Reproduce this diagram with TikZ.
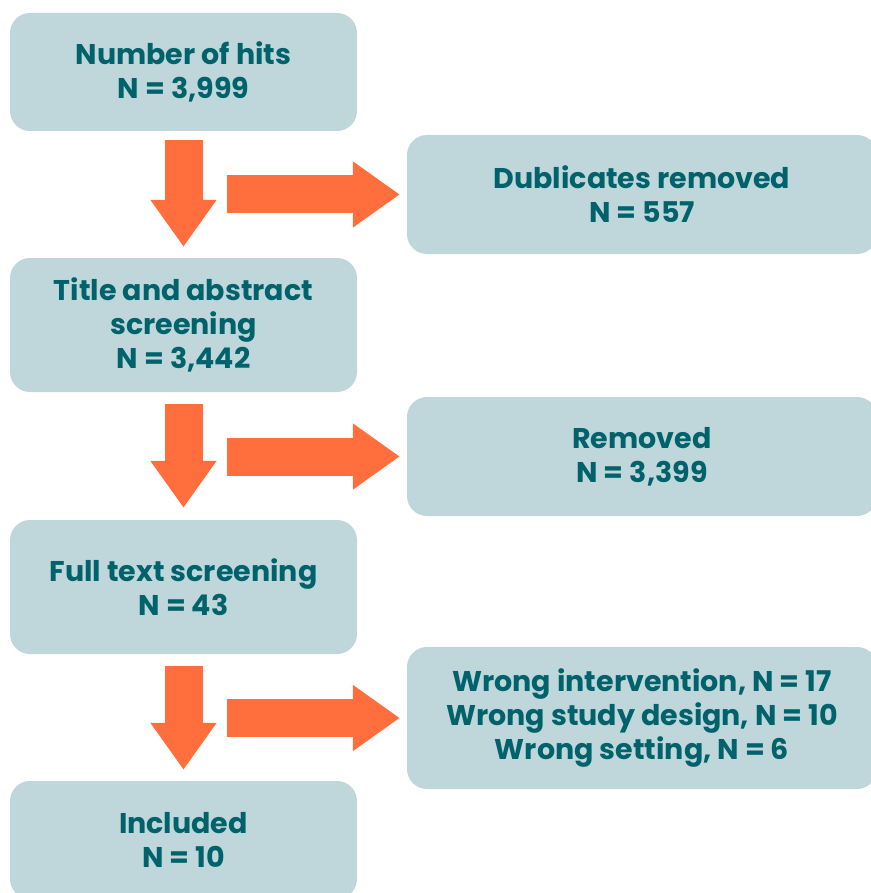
\documentclass[tikz,border=0pt]{standalone}
\usepackage{fontspec}
\setmainfont{Poppins}
\usepackage{tikz}
\usetikzlibrary{arrows.meta,positioning}
\definecolor{boxFill}{RGB}{191,214,219}
\definecolor{boxText}{RGB}{0,98,106}
\definecolor{flowArrow}{RGB}{255,110,60}

\tikzset{
  stagebox/.style={fill=boxFill, rounded corners=20pt, align=center,
    text=boxText, font=\fontsize{28.5}{34}\selectfont\bfseries,
    minimum width=347pt, minimum height=134pt, inner sep=0pt},
  outbox/.style={stagebox, minimum width=470pt, minimum height=119pt},
  bigarrow/.style={draw=flowArrow, line width=38pt,
    -{Triangle[width=63pt, length=47pt]}}
}

\begin{document}
\begin{tikzpicture}[x=1pt, y=-1pt]
  \useasboundingbox (0,0) rectangle (870,893);
  % left column
  \node[stagebox, minimum height=118pt] (hits) at (183.5,72) {Number of hits\\N = 3,999};
  \node[stagebox] (title) at (183.5,325) {Title and abstract\\screening\\N = 3,442};
  \node[stagebox] (fulltext) at (183.5,587) {Full text screening\\N = 43};
  \node[stagebox, minimum height=118pt] (included) at (183.5,840) {Included\\N = 10};
  % right column
  \node[outbox] (dupes) at (642,194.5) {Dublicates removed\\N = 557};
  \node[outbox] (removed) at (642,456.5) {Removed\\N = 3,399};
  \node[outbox, minimum height=142pt] (wrong) at (642,718) {Wrong intervention, N = 17\\Wrong study design, N = 10\\Wrong setting, N = 6};
  % arrows
  \draw[bigarrow] ([yshift=-9pt]hits.south) -- ([yshift=11pt]title.north);
  \draw[bigarrow] ([yshift=-12pt]title.south) -- ([yshift=12pt]fulltext.north);
  \draw[bigarrow] ([yshift=-12pt]fulltext.south) -- ([yshift=11pt]included.north);
  \draw[bigarrow] ([xshift=-180pt]dupes.west) -- ([xshift=-7pt]dupes.west);
  \draw[bigarrow] ([xshift=-180pt]removed.west) -- ([xshift=-7pt]removed.west);
  \draw[bigarrow] ([xshift=-180pt]wrong.west) -- ([xshift=-7pt]wrong.west);
\end{tikzpicture}
\end{document}
